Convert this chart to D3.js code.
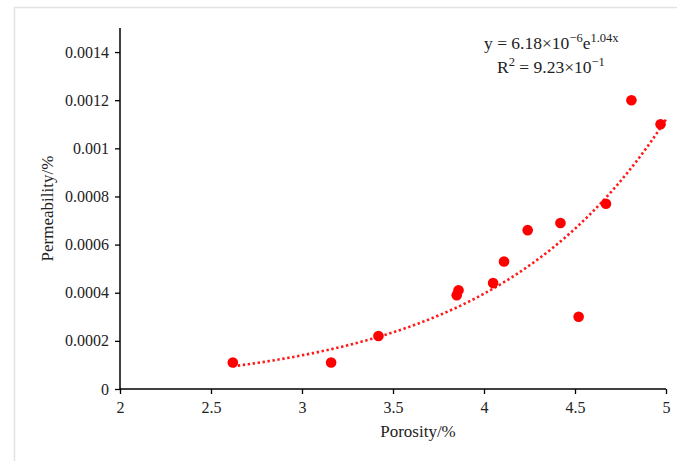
<!DOCTYPE html>
<html>
<head>
<meta charset="utf-8">
<script src="https://cdn.jsdelivr.net/npm/d3@7"></script>
<style>
  body { margin: 0; background: #fff; }
</style>
</head>
<body>
<div id="chartDiv"></div>
<script>
// sample values
var porosity     = [2.62, 3.16, 3.42, 3.85, 3.86, 4.05, 4.11, 4.24, 4.42, 4.52, 4.67, 4.81, 4.97];
var permeability = [0.00011, 0.00011, 0.00022, 0.00039, 0.00041, 0.00044, 0.00053, 0.00066, 0.00069, 0.00030, 0.00077, 0.0012, 0.0011];

var xTicks = [2, 2.5, 3, 3.5, 4, 4.5, 5];
var yTicks = [0, 0.0002, 0.0004, 0.0006, 0.0008, 0.001, 0.0012, 0.0014];
var yTickLabels = ["0", "0.0002", "0.0004", "0.0006", "0.0008", "0.001", "0.0012", "0.0014"];

// exponential trendline shown in the label: y = a * e^(b x)
var trendA = 6.18e-6;
var trendB = 1.04;
var trendFrom = 2.62;
var trendTo = 5.0;

var serifFont = "'Liberation Serif', 'Times New Roman', 'DejaVu Serif', serif";

(function () {
  'use strict'

  var W = 677, H = 461;
  var margin = {top: 28, right: 11, bottom: 72, left: 120};
  var width = W - margin.left - margin.right,
      height = H - margin.top - margin.bottom;

  var svg = d3.select("#chartDiv").append("svg")
    .attr("width", W)
    .attr("height", H)
    .style("font-family", serifFont);

  // light frame of the figure
  svg.append("rect")
    .attr("x", 14.5).attr("y", 7.5)
    .attr("width", W).attr("height", H)
    .attr("fill", "none")
    .attr("stroke", "#e2e2e2")
    .attr("stroke-width", 1.5);

  var g = svg.append("g")
    .attr("transform", "translate(" + margin.left + "," + margin.top + ")");

  var x = d3.scaleLinear().domain([2, 5]).range([0, width]);
  var y = d3.scaleLinear().domain([0, 0.0015]).range([height, 0]);

  // y axis
  var yAxis = g.append("g")
    .attr("class", "d3LeftAxis")
    .call(d3.axisLeft(y).tickValues(yTicks).tickSize(5).tickPadding(6)
      .tickFormat(function(d, i) { return yTickLabels[i]; }));
  yAxis.attr("font-family", serifFont).attr("font-size", 16);
  yAxis.select(".domain").attr("d", "M0,0V" + height).attr("stroke", "#000").attr("stroke-width", 1.5);
  yAxis.selectAll(".tick line").attr("stroke", "#000").attr("stroke-width", 1.3);
  yAxis.selectAll(".tick text").attr("fill", "#222");

  // x axis
  var xAxis = g.append("g")
    .attr("class", "d3BottomAxis")
    .attr("transform", "translate(0," + height + ")")
    .call(d3.axisBottom(x).tickValues(xTicks).tickSize(5).tickPadding(8)
      .tickFormat(function(d) { return String(d); }));
  xAxis.attr("font-family", serifFont).attr("font-size", 16);
  xAxis.select(".domain").attr("d", "M0,0H" + width).attr("stroke", "#000").attr("stroke-width", 1.5);
  xAxis.selectAll(".tick line").attr("stroke", "#000").attr("stroke-width", 1.3);
  xAxis.selectAll(".tick text").attr("fill", "#222");

  // trendline
  var trendX = d3.range(trendFrom, trendTo + 0.0001, 0.02);
  var line = d3.line()
    .x(function(d) { return x(d); })
    .y(function(d) { return y(trendA * Math.exp(trendB * d)); });
  g.append("path")
    .datum(trendX)
    .attr("d", line)
    .attr("fill", "none")
    .attr("stroke", "#ff1a1a")
    .attr("stroke-width", 2.6)
    .attr("stroke-dasharray", "2.4,2.6");

  // points
  g.append("g").selectAll("circle")
    .data(porosity)
    .enter().append("circle")
    .attr("cx", function(d) { return x(d); })
    .attr("cy", function(d, i) { return y(permeability[i]); })
    .attr("r", 5.3)
    .attr("fill", "#ff0000");

  // axis titles
  g.append("text")
    .attr("font-family", serifFont).attr("font-size", 17).attr("fill", "#222")
    .attr("x", width / 2 + 25)
    .attr("y", height + 48)
    .attr("text-anchor", "middle")
    .text("Porosity/%");

  g.append("text")
    .attr("font-family", serifFont).attr("font-size", 17).attr("fill", "#222")
    .attr("transform", "translate(" + (-67) + "," + (height / 2) + ") rotate(-90)")
    .attr("text-anchor", "middle")
    .text("Permeability/%");

  // equation label
  var eq = svg.append("text")
    .attr("font-family", serifFont).attr("font-size", 17.5).attr("fill", "#222")
    .attr("x", 484).attr("y", 49);
  eq.append("tspan").text("y = 6.18×10");
  eq.append("tspan").attr("dy", -7).attr("font-size", 12.5).text("−6");
  eq.append("tspan").attr("dy", 7).text("e");
  eq.append("tspan").attr("dy", -7).attr("font-size", 12.5).text("1.04x");

  var r2 = svg.append("text")
    .attr("font-family", serifFont).attr("font-size", 17.5).attr("fill", "#222")
    .attr("x", 497).attr("y", 73);
  r2.append("tspan").text("R");
  r2.append("tspan").attr("dy", -7).attr("font-size", 12.5).text("2");
  r2.append("tspan").attr("dy", 7).text(" = 9.23×10");
  r2.append("tspan").attr("dy", -7).attr("font-size", 12.5).text("−1");
})()
</script>
</body>
</html>
